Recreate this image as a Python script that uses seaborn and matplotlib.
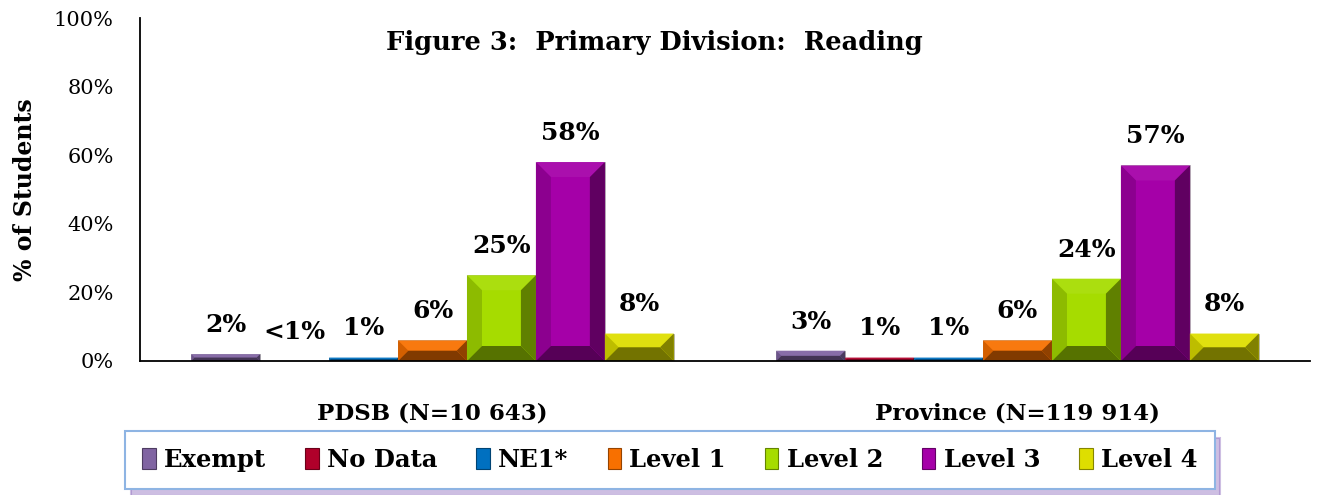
import matplotlib
matplotlib.use("Agg")
import matplotlib.pyplot as plt
import matplotlib.colors as mcolors
from matplotlib.patches import Polygon, Patch
import pandas as pd
import seaborn as sns

# data
groups = ["PDSB (N=10 643)", "Province (N=119 914)"]
levels = ["Exempt", "No Data", "NE1*", "Level 1", "Level 2", "Level 3", "Level 4"]
pdsb_values = [2, 0, 1, 6, 25, 58, 8]
province_values = [3, 1, 1, 6, 24, 57, 8]
pdsb_labels = ["2%", "<1%", "1%", "6%", "25%", "58%", "8%"]
province_labels = ["3%", "1%", "1%", "6%", "24%", "57%", "8%"]
level_colors = ["#8064a2", "#b0002a", "#0070c0", "#f87000", "#a6dc00", "#a500a8", "#dede00"]

rows = []
for g, vals, labs in [(groups[0], pdsb_values, pdsb_labels),
                      (groups[1], province_values, province_labels)]:
    for lev, v, lab in zip(levels, vals, labs):
        rows.append({"group": g, "level": lev, "value": v, "label": lab})
df = pd.DataFrame(rows)

sns.set_style("white")
plt.rcParams["font.family"] = ["DejaVu Serif", "Liberation Serif"]
plt.rcParams["text.color"] = "black"
plt.rcParams["axes.labelcolor"] = "black"
plt.rcParams["xtick.color"] = "black"
plt.rcParams["ytick.color"] = "black"

fig = plt.figure(figsize=(13.17, 4.95), dpi=100)
ax = fig.add_axes([140 / 1317, 134 / 495, 1170 / 1317, 343 / 495])

sns.barplot(data=df, x="group", y="value", hue="level", hue_order=levels,
            palette=level_colors, saturation=1, width=0.825, gap=0, legend=False, ax=ax,
            edgecolor="#b0b0b0", linewidth=0.6, errorbar=None)

ax.set_xlim(-0.5, 1.5)
ax.set_ylim(0, 100)


def shade(c, f):
    r, g, b = mcolors.to_rgb(c)
    if f >= 1:
        return (r + (1 - r) * (f - 1), g + (1 - g) * (f - 1), b + (1 - b) * (f - 1))
    return (r * f, g * f, b * f)


# bevelled look: split each bar into a bright face and shaded edges
to_px = ax.transData.transform
to_data = ax.transData.inverted().transform
bars = [p for p in ax.patches if p.get_height() > 0]
for p in bars:
    base = p.get_facecolor()
    (x0, y0) = to_px((p.get_x(), p.get_y()))
    (x1, y1) = to_px((p.get_x() + p.get_width(), p.get_y() + p.get_height()))
    b = min(15, (y1 - y0) / 2, (x1 - x0) / 2)
    polys = [
        ([(x0, y1), (x1, y1), (x1 - b, y1 - b), (x0 + b, y1 - b)], 1.06),
        ([(x0, y0), (x0, y1), (x0 + b, y1 - b), (x0 + b, y0 + b)], 0.85),
        ([(x1, y0), (x1, y1), (x1 - b, y1 - b), (x1 - b, y0 + b)], 0.58),
        ([(x0, y0), (x1, y0), (x1 - b, y0 + b), (x0 + b, y0 + b)], 0.52),
    ]
    for pts, f in polys:
        ax.add_patch(Polygon(to_data(pts), closed=True, facecolor=shade(base, f),
                             edgecolor="none", zorder=p.get_zorder() + 0.1))

# value labels above each bar
for i, g in enumerate(groups):
    sub = df[df["group"] == g]
    for j, (v, lab) in enumerate(zip(sub["value"], sub["label"])):
        xc = i - 0.825 / 2 + 0.825 / 7 * (j + 0.5)
        ax.annotate(lab, (xc, v), xytext=(0, 21), textcoords="offset points",
                    ha="center", va="center", fontsize=18, fontweight="bold")

ax.text(0.44, 0.93, "Figure 3:  Primary Division:  Reading", transform=ax.transAxes,
        ha="center", va="center", fontsize=18.5, fontweight="bold")

ax.set_yticks(range(0, 101, 20))
ax.set_yticklabels([f"{t}%" for t in range(0, 101, 20)], fontsize=15)
ax.set_ylabel("% of Students", fontsize=17, fontweight="bold", labelpad=12)
ax.set_xlabel("")
ax.set_xticks([0, 1])
ax.set_xticklabels(groups, fontsize=16.5, fontweight="bold")
ax.set_xticks([-0.5, 0.5, 1.5], minor=True)
ax.tick_params(axis="x", which="major", length=0, pad=30)
ax.tick_params(axis="x", which="minor", length=6, width=1.3, direction="out", color="black")
ax.tick_params(axis="y", length=6, width=1.3, direction="out", color="black", pad=13)
for s in ["top", "right"]:
    ax.spines[s].set_visible(False)
for s in ["left", "bottom"]:
    ax.spines[s].set_color("black")
    ax.spines[s].set_linewidth(1.3)

handles = [Patch(facecolor=c, edgecolor=shade(c, 0.6), linewidth=0.8) for c in level_colors]
leg = fig.legend(handles, levels, loc="center", bbox_to_anchor=(670 / 1317, 35 / 495),
                 ncol=7, frameon=True, fancybox=False,
                 shadow={"color": "#9070c0", "alpha": 0.45, "ox": 4, "oy": -5},
                 prop={"size": 17.5, "weight": "bold"}, handlelength=0.55, handleheight=0.95,
                 handletextpad=0.35, columnspacing=1.6, borderpad=0.7)
leg.get_frame().set_edgecolor("#8eb4e3")
leg.get_frame().set_linewidth(1.5)

fig.savefig("out.png", dpi=100, facecolor="white")
